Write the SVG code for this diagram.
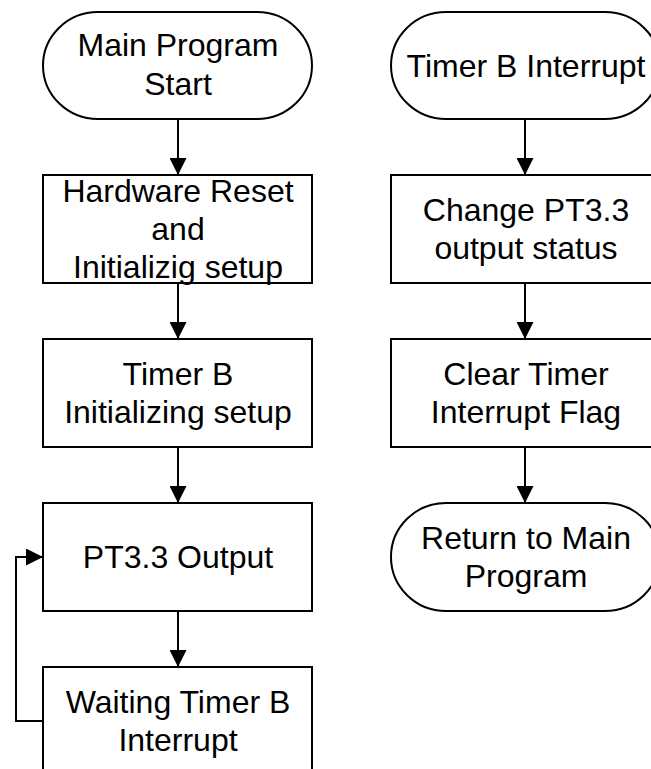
<svg xmlns="http://www.w3.org/2000/svg" width="651" height="769" viewBox="0 0 651 769">
<style>
.s{fill:#fff;stroke:#000;stroke-width:2}
.t{font-family:"Liberation Sans",Arial,sans-serif;font-size:32px;text-anchor:middle;fill:#000}
.c{fill:none;stroke:#000;stroke-width:2}
</style>
<defs>
<marker id="ah" viewBox="0 0 17 17" refX="17" refY="8.5" markerWidth="17" markerHeight="17" orient="auto" markerUnits="userSpaceOnUse">
<path d="M0,0 L17,8.5 L0,17 Z" fill="#000"/>
</marker>
</defs>
<rect width="651" height="769" fill="#fff"/>
<g id="connectors">
<line class="c" x1="178" y1="119" x2="178" y2="175" marker-end="url(#ah)"/>
<line class="c" x1="178" y1="283" x2="178" y2="339" marker-end="url(#ah)"/>
<line class="c" x1="178" y1="447" x2="178" y2="503" marker-end="url(#ah)"/>
<line class="c" x1="178" y1="611" x2="178" y2="667" marker-end="url(#ah)"/>
<path class="c" d="M43,721 H16 V557 H43" marker-end="url(#ah)"/>
<line class="c" x1="525" y1="119" x2="525" y2="175" marker-end="url(#ah)"/>
<line class="c" x1="525" y1="283" x2="525" y2="339" marker-end="url(#ah)"/>
<line class="c" x1="525" y1="447" x2="525" y2="503" marker-end="url(#ah)"/>
</g>
<g id="main-start">
<path class="s" d="M98,12 H257 A55,53.5 0 0 1 257,119 H98 A55,53.5 0 0 1 98,12 Z"/>
<text class="t" x="178" y="56">Main Program</text>
<text class="t" x="178" y="95">Start</text>
</g>
<g id="hw-reset">
<rect class="s" x="43" y="175" width="269" height="108"/>
<text class="t" x="178" y="202">Hardware Reset</text>
<text class="t" x="178" y="240">and</text>
<text class="t" x="178" y="278">Initializig setup</text>
</g>
<g id="timerb-setup">
<rect class="s" x="43" y="339" width="269" height="108"/>
<text class="t" x="178" y="385">Timer B</text>
<text class="t" x="178" y="423">Initializing setup</text>
</g>
<g id="pt33-output">
<rect class="s" x="43" y="503" width="269" height="108"/>
<text class="t" x="178" y="568">PT3.3 Output</text>
</g>
<g id="waiting">
<rect class="s" x="43" y="667" width="269" height="108"/>
<text class="t" x="178" y="713">Waiting Timer B</text>
<text class="t" x="178" y="751">Interrupt</text>
</g>
<g id="timerb-interrupt">
<path class="s" d="M446,12 H605 A55,53.5 0 0 1 605,119 H446 A55,53.5 0 0 1 446,12 Z"/>
<text class="t" x="526" y="77">Timer B Interrupt</text>
</g>
<g id="change-pt33">
<rect class="s" x="391" y="175" width="269" height="108"/>
<text class="t" x="526" y="221">Change PT3.3</text>
<text class="t" x="526" y="259">output status</text>
</g>
<g id="clear-flag">
<rect class="s" x="391" y="339" width="269" height="108"/>
<text class="t" x="526" y="385">Clear Timer</text>
<text class="t" x="526" y="423">Interrupt Flag</text>
</g>
<g id="return-main">
<path class="s" d="M446,503 H605 A55,54 0 0 1 605,611 H446 A55,54 0 0 1 446,503 Z"/>
<text class="t" x="526" y="549">Return to Main</text>
<text class="t" x="526" y="587">Program</text>
</g>
</svg>
